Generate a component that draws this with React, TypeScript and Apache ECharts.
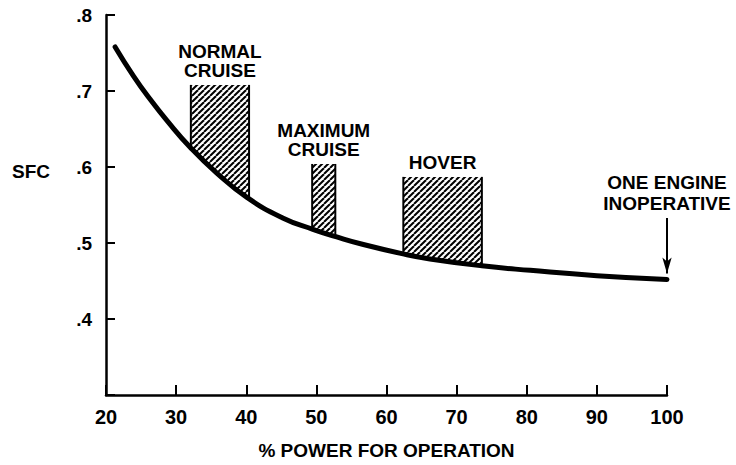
import React, { useEffect, useRef } from "react";
import * as echarts from "echarts";

// Curve: specific fuel consumption vs % power
const curvePower = [21.3, 23.9, 26.3, 28.7, 32.0, 35.8, 40.1, 45.2, 49.5, 52.9, 56.7, 62.2, 66.2, 73.6, 80.5, 90.0, 100.0];
const curveSfc = [0.758, 0.72, 0.689, 0.661, 0.626, 0.592, 0.56, 0.533, 0.518, 0.508, 0.498, 0.486, 0.479, 0.47, 0.464, 0.457, 0.452];

// Hatched operating regions
const regionNames = ["NORMAL\nCRUISE", "MAXIMUM\nCRUISE", "HOVER"];
const regionFrom = [32.1, 49.4, 62.4];
const regionTo = [40.4, 52.7, 73.6];
const regionTop = [0.708, 0.604, 0.587];

// One engine inoperative marker
const oeiLabel = "ONE ENGINE\nINOPERATIVE";
const oeiPower = 100;
const oeiFromSfc = 0.533;
const oeiToSfc = 0.46;

// Axis ticks
const yTickValues = [0.4, 0.5, 0.6, 0.7, 0.8];
const yTickLabels = [".4", ".5", ".6", ".7", ".8"];

const FONT = "'Liberation Sans', Arial, Helvetica, sans-serif";

function sfcAt(x: number): number {
  if (x <= curvePower[0]) return curveSfc[0];
  for (let i = 1; i < curvePower.length; i++) {
    if (x <= curvePower[i]) {
      const t = (x - curvePower[i - 1]) / (curvePower[i] - curvePower[i - 1]);
      return curveSfc[i - 1] + t * (curveSfc[i] - curveSfc[i - 1]);
    }
  }
  return curveSfc[curveSfc.length - 1];
}

function makeHatch(): string {
  const T = 6;
  const c = document.createElement("canvas");
  c.width = T;
  c.height = T;
  const ctx = c.getContext("2d")!;
  ctx.fillStyle = "#fff";
  ctx.fillRect(0, 0, T, T);
  ctx.strokeStyle = "#000";
  ctx.lineWidth = 2;
  for (let k = -1; k <= 1; k++) {
    ctx.beginPath();
    ctx.moveTo(k * T, T);
    ctx.lineTo(k * T + T, 0);
    ctx.stroke();
  }
  return c.toDataURL();
}

export default function App() {
  const ref = useRef<HTMLDivElement>(null);
  useEffect(() => {
    if (!ref.current) return;
    const chart = echarts.init(ref.current, null, { renderer: "svg" });
    const hatch = { image: makeHatch(), repeat: "repeat", imageWidth: 6, imageHeight: 6 };
    const regionData = regionNames.map((_, i) => [regionFrom[i], regionTo[i], regionTop[i]]);

    chart.setOption({
      animation: false,
      backgroundColor: "#fff",
      title: {
        text: "SFC",
        left: 12,
        top: 162,
        padding: 0,
        textStyle: { fontSize: 19, fontWeight: "bold", color: "#000", fontFamily: FONT },
      },
      grid: { left: 106, right: 69, top: 15, bottom: 70 },
      xAxis: {
        type: "value",
        min: 20,
        max: 100,
        interval: 10,
        name: "% POWER FOR OPERATION",
        nameLocation: "middle",
        nameGap: 46,
        nameTextStyle: { fontSize: 19, fontWeight: "bold", color: "#000", fontFamily: FONT },
        axisLine: { lineStyle: { color: "#000", width: 2.5 } },
        axisTick: { inside: true, length: 10, lineStyle: { color: "#000", width: 2 } },
        axisLabel: { fontSize: 20, fontWeight: "bold", color: "#000", fontFamily: FONT, margin: 12 },
        splitLine: { show: false },
      },
      yAxis: {
        type: "value",
        min: 0.3,
        max: 0.8,
        interval: 0.1,
        axisLine: { show: true, lineStyle: { color: "#000", width: 2.5 } },
        axisTick: { show: true, inside: true, length: 9, lineStyle: { color: "#000", width: 2 } },
        axisLabel: {
          fontSize: 19,
          fontWeight: "bold",
          color: "#000",
          fontFamily: FONT,
          margin: 14,
          formatter: (v: number) => {
            const idx = yTickValues.findIndex((t) => Math.abs(t - v) < 1e-6);
            return idx >= 0 ? yTickLabels[idx] : "";
          },
        },
        splitLine: { show: false },
      },
      series: [
        {
          type: "custom",
          coordinateSystem: "cartesian2d",
          encode: { x: [0, 1], y: 2 },
          data: regionData,
          z: 1,
          renderItem: (params: any, api: any) => {
            const i = params.dataIndex;
            const from = api.value(0);
            const to = api.value(1);
            const top = api.value(2);
            const xs = [from, ...curvePower.filter((x) => x > from && x < to), to];
            const bottom = xs.map((x) => api.coord([x, sfcAt(x)]));
            const tl = api.coord([from, top]);
            const tr = api.coord([to, top]);
            const bl = bottom[0];
            const br = bottom[bottom.length - 1];
            const pts = [tl, tr, ...bottom.slice().reverse()];
            return {
              type: "group",
              children: [
                { type: "polygon", shape: { points: pts }, style: { fill: hatch as any, stroke: null } },
                { type: "line", shape: { x1: tl[0], y1: tl[1], x2: bl[0], y2: bl[1] }, style: { stroke: "#000", lineWidth: 2 } },
                { type: "line", shape: { x1: tr[0], y1: tr[1], x2: br[0], y2: br[1] }, style: { stroke: "#000", lineWidth: 2 } },
                {
                  type: "text",
                  x: (tl[0] + tr[0]) / 2,
                  y: tl[1] - 5,
                  style: {
                    text: regionNames[i],
                    fill: "#000",
                    fontSize: 19,
                    fontWeight: "bold",
                    fontFamily: FONT,
                    align: "center",
                    verticalAlign: "bottom",
                    lineHeight: 19,
                  },
                },
              ],
            };
          },
        },
        {
          type: "line",
          data: curvePower.map((x, i) => [x, curveSfc[i]]),
          smooth: 0.5,
          showSymbol: false,
          z: 3,
          lineStyle: { color: "#000", width: 5, cap: "round" },
          markLine: {
            silent: true,
            symbol: ["none", "arrow"],
            symbolSize: [7, 16],
            lineStyle: { color: "#000", width: 2, type: "solid" },
            label: {
              show: true,
              position: "start",
              formatter: oeiLabel,
              fontSize: 19,
              fontWeight: "bold",
              color: "#000",
              fontFamily: FONT,
              lineHeight: 21,
              distance: 4,
            },
            data: [[{ coord: [oeiPower, oeiFromSfc] }, { coord: [oeiPower, oeiToSfc] }]],
          },
        },
      ],
    });
    return () => chart.dispose();
  }, []);
  return <div ref={ref} style={{ position: "fixed", left: 0, top: 0, width: 736, height: 465 }} />;
}
